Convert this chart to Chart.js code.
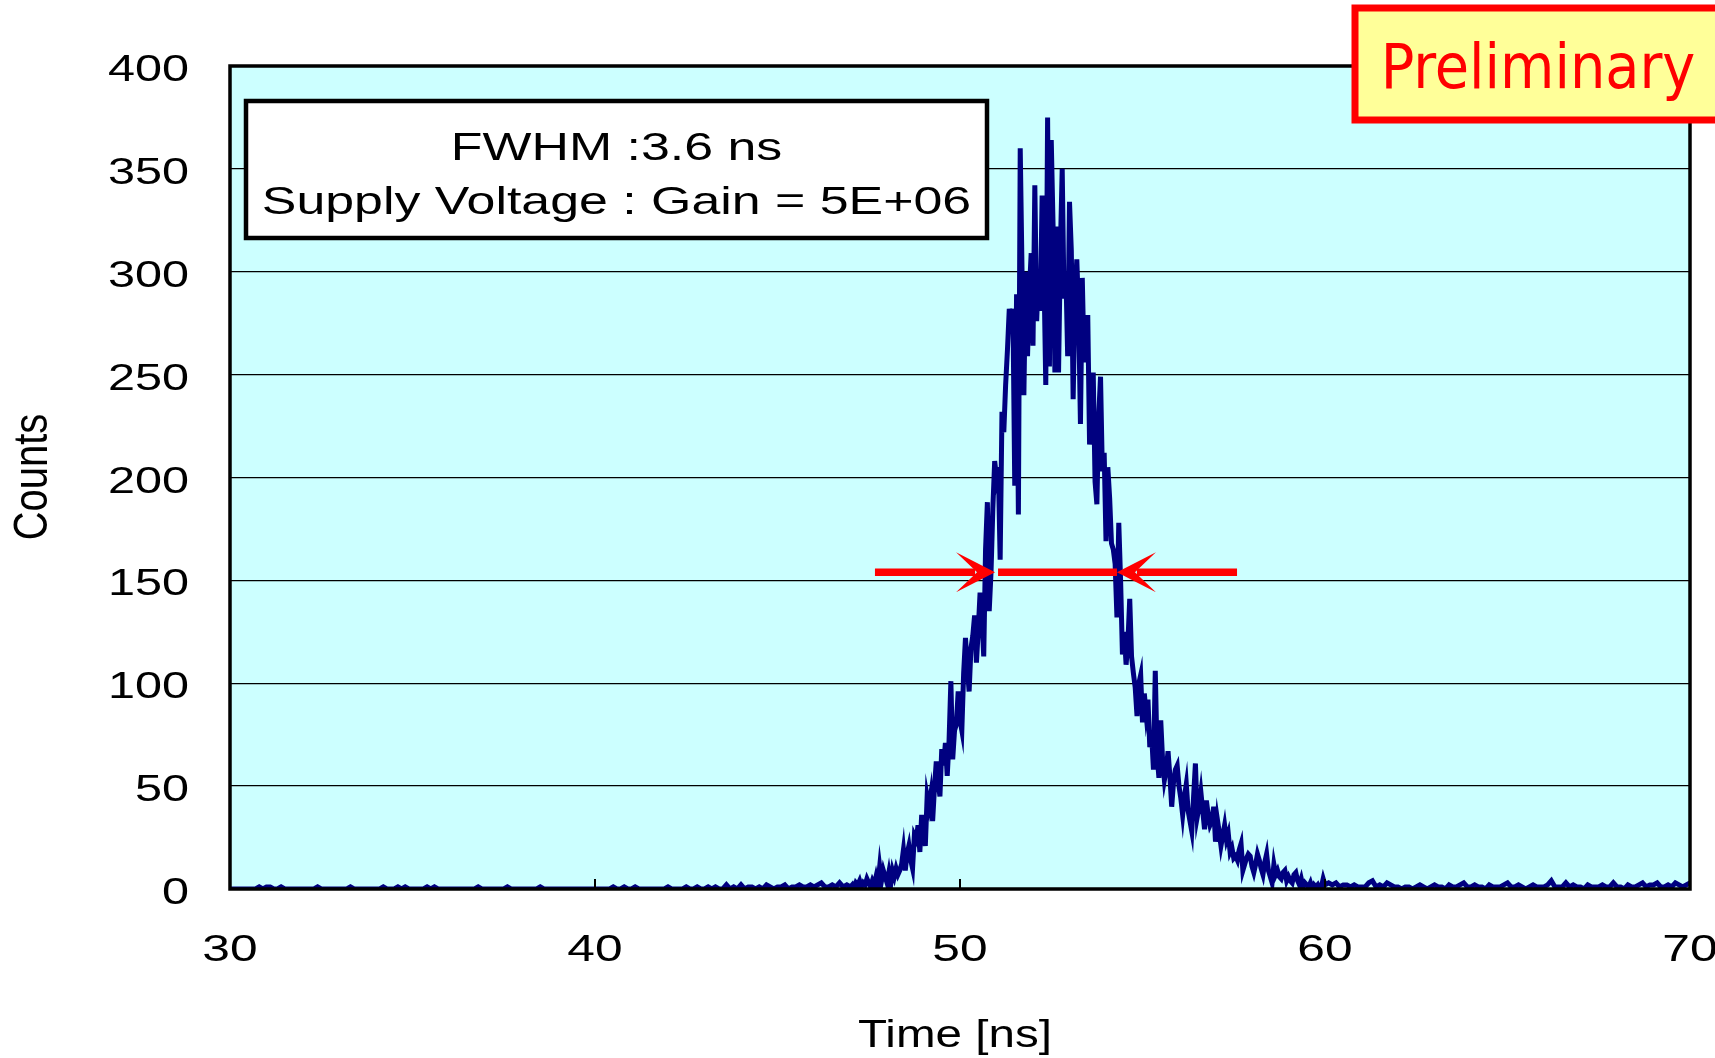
<!DOCTYPE html>
<html>
<head>
<meta charset="utf-8">
<script src="https://cdn.jsdelivr.net/npm/chart.js@4.4.1/dist/chart.umd.min.js"></script>
<style>
  html, body { margin: 0; padding: 0; background: #fff; }
  #wrap { width: 1715px; height: 1058px; }
</style>
</head>
<body>
<div id="wrap"><canvas id="timingChart" width="1715" height="1058"></canvas></div>
<script>
// histogram bins (counts per bin)
const leftTailStart = 30.0;
const leftTailStep = 0.1;
const leftTailCounts = [
  0, 0, 0, 0, 0, 0, 0, 0, 1, 0,
  1, 1, 0, 0, 1, 0, 0, 0, 0, 0,
  0, 0, 0, 0, 1, 0, 0, 0, 0, 0,
  0, 0, 0, 1, 0, 0, 0, 0, 0, 0,
  0, 0, 1, 0, 0, 0, 1, 0, 1, 0,
  0, 0, 0, 0, 1, 0, 1, 0, 0, 0,
  0, 0, 0, 0, 0, 0, 0, 0, 1, 0,
  0, 0, 0, 0, 0, 0, 1, 0, 0, 0,
  0, 0, 0, 0, 0, 1, 0, 0, 0, 0,
  0, 0, 0, 0, 0, 0, 0, 0, 0, 0,
  0, 0, 0, 0, 0, 1, 0, 0, 1, 0,
  0, 1, 0, 0, 0, 0, 0, 0, 0, 0,
  1, 0, 0, 0, 0, 1, 0, 0, 1, 0,
  0, 1, 0, 1, 0, 0, 2, 0, 1, 0,
  2, 0, 1, 1, 0, 1, 0, 2, 1, 0,
  1, 1, 2, 0, 1, 1, 2, 1, 1, 2,
  1, 2, 3, 1, 1, 2, 1, 3, 1, 2,
];

const peakStart = 47.0;
const peakStep = 0.05;
const peakCounts = [
  1, 2, 0, 3, 2, 4, 1, 3, 2, 5, 3, 1, 4, 2, 6, 2, 11, 4, 9, 6,
  3, 8, 2, 9, 6, 10, 7, 9, 12, 19, 9, 17, 21, 14, 10, 26, 24, 31, 18, 36,
  27, 21, 45, 40, 46, 33, 49, 62, 52, 45, 68, 60, 71, 55, 72, 101, 63, 77, 80, 96,
  82, 77, 105, 122, 108, 96, 117, 123, 133, 110, 126, 144, 132, 113, 165, 188, 135, 154, 185, 208,
  200, 205, 160, 232, 222, 245, 262, 282, 270, 282, 196, 289, 182, 360, 300, 240, 300, 259, 290, 309,
  264, 342, 276, 300, 281, 337, 300, 245, 375, 254, 364, 322, 251, 322, 251, 311, 350, 287, 300, 259,
  334, 310, 238, 287, 306, 280, 226, 297, 256, 270, 279, 216, 245, 251, 198, 187, 230, 249, 203, 212,
  169, 205, 190, 168, 165, 158, 132, 178, 150, 114, 125, 109, 120, 141, 113, 105, 98, 84, 100, 104,
  81, 95, 85, 92, 69, 75, 58, 106, 65, 54, 82, 63, 53, 58, 67, 55, 40, 52, 58, 60,
  50, 44, 36, 45, 51, 38, 33, 28, 45, 61, 35, 40, 47, 38, 29, 43, 36, 31, 33, 40,
  23, 34, 28, 21, 26, 31, 24, 27, 18, 20, 15, 16, 14, 19, 22, 9, 12, 15, 17, 16,
  11, 8, 12, 17, 14, 10, 7, 13, 17, 9, 6, 3, 12, 7, 9, 6, 5, 8, 9, 4,
  6, 4, 3, 7, 8, 4, 2, 5, 1, 3, 2, 1, 3, 0, 2, 1, 2, 0, 1, 5,
  2,
];

const rightTailStart = 60.1;
const rightTailStep = 0.1;
const rightTailCounts = [
  3, 2, 3, 1, 2, 2, 1, 2, 1,
  1, 1, 3, 4, 1, 2, 1, 3, 2, 1,
  1, 0, 1, 1, 0, 1, 2, 1, 0, 1,
  2, 1, 1, 0, 2, 1, 1, 2, 3, 1,
  1, 2, 1, 1, 0, 2, 1, 1, 1, 2,
  3, 1, 1, 2, 1, 0, 1, 2, 1, 1,
  1, 2, 4, 1, 1, 1, 3, 1, 2, 1,
  1, 0, 2, 1, 1, 1, 2, 1, 1, 3,
  1, 1, 0, 2, 1, 1, 2, 3, 1, 2,
  2, 3, 1, 1, 2, 1, 3, 2, 1, 2,
  3,
];

const timeTicks = [30, 40, 50, 60, 70];
const countTicks = [0, 50, 100, 150, 200, 250, 300, 350, 400];
const xTitle = "Time [ns]";
const yTitle = "Counts";

// FWHM marker (ns, counts)
const fwhmLevel = 154;
const fwhmEdges = [50.96, 54.3];
const arrowTails = [47.67, 57.59];

const infoLines = ["FWHM :3.6 ns", "Supply Voltage : Gain = 5E+06"];
const stampText = "Preliminary";

function toPoints(start, step, counts) {
  return counts.map((c, i) => ({ x: +(start + i * step).toFixed(2), y: c }));
}

const histPoints = [
  ...toPoints(leftTailStart, leftTailStep, leftTailCounts),
  ...toPoints(peakStart, peakStep, peakCounts),
  ...toPoints(rightTailStart, rightTailStep, rightTailCounts),
];

const FONT = "'Liberation Sans', Arial, sans-serif";

// the original page was stretched sideways, so text is drawn wide
function wideText(ctx, text, x, y, size, sx, align) {
  ctx.save();
  ctx.translate(x, y);
  ctx.scale(sx, 1);
  ctx.font = size + "px " + FONT;
  ctx.textAlign = align;
  ctx.textBaseline = "alphabetic";
  ctx.fillText(text, 0, 0);
  ctx.restore();
}

const decorPlugin = {
  id: "decor",
  beforeDraw(chart) {
    const { ctx, chartArea: a } = chart;
    ctx.save();
    ctx.fillStyle = "#ccffff";
    ctx.fillRect(a.left, a.top, a.right - a.left, a.bottom - a.top);
    ctx.restore();
  },
  afterDatasetsDraw(chart) {
    const { ctx, chartArea: a, scales } = chart;
    ctx.save();
    ctx.strokeStyle = "#000";
    ctx.lineWidth = 2;
    scales.x.ticks.slice(1, -1).forEach((t) => {
      const x = scales.x.getPixelForValue(t.value);
      ctx.beginPath();
      ctx.moveTo(x, a.bottom);
      ctx.lineTo(x, a.bottom - 10);
      ctx.stroke();
    });
    ctx.lineWidth = 3.5;
    ctx.strokeRect(a.left, a.top, a.right - a.left, a.bottom - a.top);
    ctx.restore();
  },
  afterDraw(chart) {
    const { ctx, chartArea: a, scales } = chart;
    ctx.save();
    ctx.fillStyle = "#000";

    // axis labels
    scales.y.ticks.forEach((t) => {
      const y = scales.y.getPixelForValue(t.value);
      wideText(ctx, String(t.value), 189, y + 15, 36, 1.35, "right");
    });
    scales.x.ticks.forEach((t) => {
      const x = scales.x.getPixelForValue(t.value);
      wideText(ctx, String(t.value), x, a.bottom + 72, 36, 1.38, "center");
    });
    wideText(ctx, xTitle, 955, 1047, 39, 1.22, "center");
    ctx.save();
    ctx.translate(33.5, 477);
    ctx.rotate(-Math.PI / 2);
    ctx.scale(1, 1.22);
    ctx.font = "40px " + FONT;
    ctx.textAlign = "center";
    ctx.textBaseline = "middle";
    ctx.fillText(yTitle, 0, 0);
    ctx.restore();

    // FWHM arrows
    const y = scales.y.getPixelForValue(fwhmLevel);
    const [xl, xr] = fwhmEdges.map((v) => scales.x.getPixelForValue(v));
    const [tl, tr] = arrowTails.map((v) => scales.x.getPixelForValue(v));
    ctx.strokeStyle = "#ff0000";
    ctx.fillStyle = "#ff0000";
    ctx.lineWidth = 7.5;
    const seg = (x1, x2) => {
      ctx.beginPath();
      ctx.moveTo(x1, y);
      ctx.lineTo(x2, y);
      ctx.stroke();
    };
    const head = (tip, dir) => {
      ctx.beginPath();
      ctx.moveTo(tip, y);
      ctx.lineTo(tip - dir * 39, y - 20);
      ctx.lineTo(tip - dir * 18, y);
      ctx.lineTo(tip - dir * 39, y + 20);
      ctx.closePath();
      ctx.fill();
    };
    seg(tl, xl - 20);
    seg(xl + 3, xr);
    seg(xr + 20, tr);
    head(xl, 1);
    head(xr, -1);

    // info box
    const bx = a.left + 16, by = a.top + 35, bw = 741, bh = 137;
    ctx.fillStyle = "#fff";
    ctx.fillRect(bx, by, bw, bh);
    ctx.strokeStyle = "#000";
    ctx.lineWidth = 4.5;
    ctx.strokeRect(bx, by, bw, bh);
    ctx.fillStyle = "#000";
    wideText(ctx, infoLines[0], bx + bw / 2, by + 59, 39, 1.33, "center");
    wideText(ctx, infoLines[1], bx + bw / 2, by + 113, 39, 1.33, "center");

    // preliminary stamp
    ctx.fillStyle = "#ffff99";
    ctx.fillRect(1355, 8, 380, 112);
    ctx.strokeStyle = "#ff0000";
    ctx.lineWidth = 7;
    ctx.strokeRect(1355, 8, 380, 112);
    ctx.fillStyle = "#ff0000";
    ctx.font = "62px 'DejaVu Sans Condensed', 'DejaVu Sans', sans-serif";
    ctx.textAlign = "center";
    ctx.textBaseline = "alphabetic";
    ctx.fillText(stampText, 1538, 88);
    ctx.restore();
  },
};

const ctx = document.getElementById("timingChart").getContext("2d");

new Chart(ctx, {
  type: "line",
  data: {
    datasets: [
      {
        data: histPoints,
        borderColor: "#000080",
        borderWidth: 5,
        pointRadius: 0,
        tension: 0,
        fill: false,
      },
    ],
  },
  options: {
    responsive: false,
    animation: false,
    devicePixelRatio: 1,
    layout: { padding: { left: 0, top: 66, right: 25, bottom: 0 } },
    plugins: {
      legend: { display: false },
      tooltip: { enabled: false },
    },
    scales: {
      x: {
        type: "linear",
        min: 30,
        max: 70,
        afterBuildTicks: (s) => {
          s.ticks = timeTicks.map((v) => ({ value: v }));
        },
        afterFit: (s) => {
          s.height = 169;
          s.paddingLeft = 0;
          s.paddingRight = 0;
        },
        grid: { display: false, drawTicks: false },
        border: { display: false },
        ticks: { display: false },
        title: { display: false, text: xTitle },
      },
      y: {
        type: "linear",
        min: 0,
        max: 400,
        afterBuildTicks: (s) => {
          s.ticks = countTicks.map((v) => ({ value: v }));
        },
        afterFit: (s) => {
          s.width = 230;
          s.paddingTop = 0;
          s.paddingBottom = 0;
        },
        grid: { color: "#000", lineWidth: 1.3, drawTicks: false },
        border: { display: false },
        ticks: { display: false },
        title: { display: false, text: yTitle },
      },
    },
  },
  plugins: [decorPlugin],
});
</script>
</body>
</html>
